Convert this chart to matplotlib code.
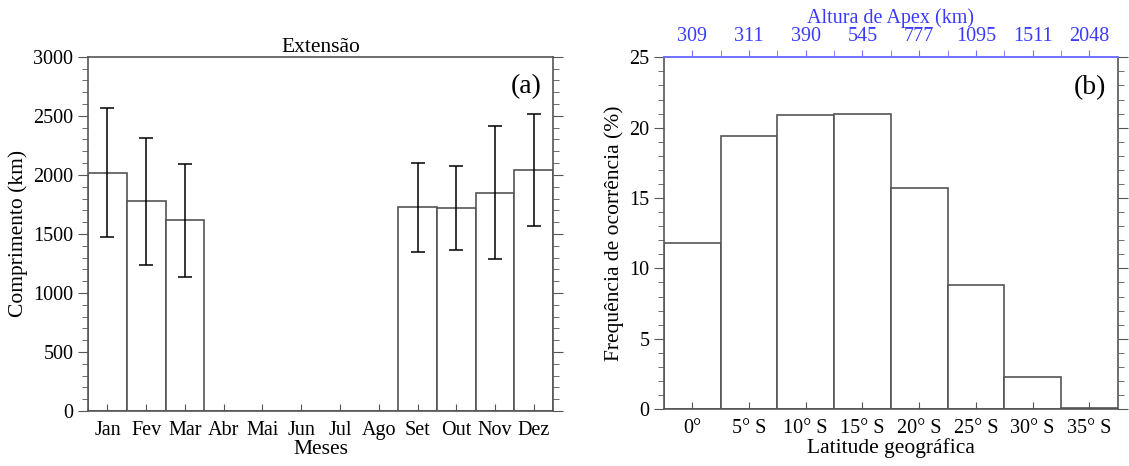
import numpy as np
import matplotlib.pyplot as plt
from matplotlib.ticker import MultipleLocator

plt.rcParams['font.family'] = ['Liberation Serif', 'DejaVu Serif']

# painel (a)
meses = ['Jan', 'Fev', 'Mar', 'Abr', 'Mai', 'Jun', 'Jul', 'Ago', 'Set', 'Out', 'Nov', 'Dez']
comprimento = [2020, 1775, 1615, 0, 0, 0, 0, 0, 1725, 1720, 1850, 2040]
erro = [550, 540, 480, 0, 0, 0, 0, 0, 380, 355, 565, 475]

# painel (b)
latitudes = ['0°', '5° S', '10° S', '15° S', '20° S', '25° S', '30° S', '35° S']
frequencia = [11.8, 19.4, 20.9, 21.0, 15.7, 8.8, 2.3, 0.1]
apex = ['309', '311', '390', '545', '777', '1095', '1511', '2048']

edge = '#555555'
blue = '#3a3aff'
fs = 14.5
lfs = 15.5

fig = plt.figure(figsize=(11.29, 4.66), dpi=100)
ax1 = fig.add_axes([0.078, 0.118, 0.412, 0.760])
ax2 = fig.add_axes([0.588, 0.122, 0.402, 0.755])

# ---- (a)
x = np.arange(1, 13)
ax1.bar(x, comprimento, width=1, color='white', edgecolor=edge, linewidth=1.2)
mask = np.array(erro) > 0
ax1.errorbar(x[mask], np.array(comprimento)[mask], yerr=np.array(erro)[mask],
             fmt='none', ecolor='black', elinewidth=1.1, capsize=5, capthick=1.1)
ax1.set_xlim(0.5, 12.5)
ax1.set_ylim(0, 3000)
ax1.set_xticks(x)
ax1.set_xticklabels(meses, fontsize=fs)
ax1.yaxis.set_major_locator(MultipleLocator(500))
ax1.yaxis.set_minor_locator(MultipleLocator(100))
ax1.tick_params(axis='y', which='both', direction='out', left=True, right=True,
                labelsize=fs, colors=edge, labelcolor='black')
ax1.tick_params(axis='y', which='major', length=7)
ax1.tick_params(axis='y', which='minor', length=4)
ax1.tick_params(axis='x', direction='in', length=5, colors=edge, labelcolor='black', pad=7)
for s in ax1.spines.values():
    s.set_color(edge)
    s.set_linewidth(1.2)
ax1.set_ylabel('Comprimento (km)', fontsize=lfs)
ax1.set_xlabel('Meses', fontsize=lfs, labelpad=0)
ax1.set_title('Extensão', fontsize=lfs, pad=3)
ax1.text(0.975, 0.95, '(a)', transform=ax1.transAxes, fontsize=20, ha='right', va='top')

# ---- (b)
xb = np.arange(len(frequencia))
ax2.bar(xb, frequencia, width=1, color='white', edgecolor=edge, linewidth=1.2)
ax2.set_xlim(-0.5, 7.5)
ax2.set_ylim(0, 25)
ax2.set_xticks(xb)
ax2.set_xticklabels(latitudes, fontsize=fs)
ax2.yaxis.set_major_locator(MultipleLocator(5))
ax2.yaxis.set_minor_locator(MultipleLocator(1))
ax2.tick_params(axis='y', which='both', direction='out', left=True, right=True,
                labelsize=fs, colors=edge, labelcolor='black')
ax2.tick_params(axis='y', which='major', length=7)
ax2.tick_params(axis='y', which='minor', length=4)
ax2.tick_params(axis='x', direction='in', length=5, colors=edge, labelcolor='black', pad=7)
for s in ax2.spines.values():
    s.set_color(edge)
    s.set_linewidth(1.2)
ax2.spines['top'].set_color('#7070ff')
ax2.set_ylabel('Frequência de ocorrência (%)', fontsize=lfs)
ax2.set_xlabel('Latitude geográfica', fontsize=lfs, labelpad=0)
ax2.text(0.975, 0.95, '(b)', transform=ax2.transAxes, fontsize=20, ha='right', va='top')

top = ax2.twiny()
top.set_xlim(ax2.get_xlim())
top.set_xticks(xb)
top.set_xticklabels(apex, fontsize=fs, color=blue)
top.set_xticks(xb[:-1] + 0.5, minor=True)
top.tick_params(axis='x', which='both', direction='out', length=5, colors='#7070ff',
                labelcolor=blue, pad=3)
top.spines['top'].set_color('#7070ff')
top.spines['top'].set_linewidth(1.2)
for k in ['left', 'right', 'bottom']:
    top.spines[k].set_visible(False)
top.set_xlabel('Altura de Apex (km)', fontsize=fs, color=blue, labelpad=3)

plt.savefig('out.png', dpi=100)
